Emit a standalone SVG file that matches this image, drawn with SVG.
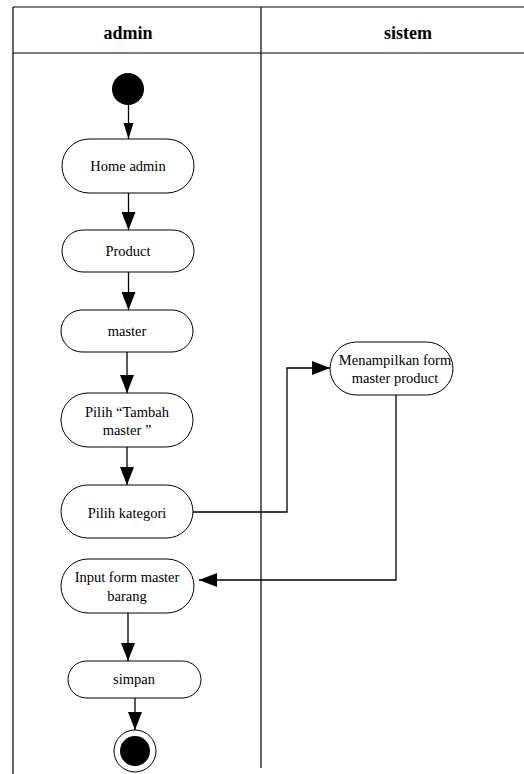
<svg xmlns="http://www.w3.org/2000/svg" width="524" height="774" viewBox="0 0 524 774">
  <style>
    .lane { stroke: #000; stroke-width: 1.2; fill: none; }
    .hdr { font-family: "Liberation Serif", "Times New Roman", serif; font-size: 18px; font-weight: bold; text-anchor: middle; fill: #000; }
    .act { fill: #fff; stroke: #000; stroke-width: 1; }
    .lbl { font-family: "Liberation Serif", "Times New Roman", serif; font-size: 14.5px; text-anchor: middle; fill: #000; }
    .flow { stroke: #000; stroke-width: 1.3; fill: none; }
  </style>
  <defs>
    <marker id="headS" markerUnits="userSpaceOnUse" markerWidth="16" markerHeight="12" refX="16" refY="6" orient="auto">
      <path d="M0,1 L16,6 L0,11 Z" fill="#000"/>
    </marker>
    <marker id="headL" markerUnits="userSpaceOnUse" markerWidth="18" markerHeight="14" refX="18" refY="7" orient="auto">
      <path d="M0,0 L18,7 L0,14 Z" fill="#000"/>
    </marker>
  </defs>

  <rect width="524" height="774" fill="#fff"/>

  <!-- swimlane frame -->
  <g id="lanes">
    <line class="lane" x1="13" y1="7" x2="524" y2="7"/>
    <line class="lane" x1="13" y1="53" x2="524" y2="53"/>
    <line class="lane" x1="13" y1="7" x2="13" y2="774"/>
    <line class="lane" x1="261" y1="7" x2="261" y2="768"/>
    <text class="hdr" x="128" y="39">admin</text>
    <text class="hdr" x="408" y="39">sistem</text>
  </g>

  <!-- connectors -->
  <g id="connectors">
    <line class="flow" x1="128.5" y1="105" x2="128.5" y2="139" marker-end="url(#headS)"/>
    <line class="flow" x1="128.5" y1="193" x2="128.5" y2="230" marker-end="url(#headL)"/>
    <line class="flow" x1="128.5" y1="272" x2="128.5" y2="310" marker-end="url(#headL)"/>
    <line class="flow" x1="127" y1="352" x2="127" y2="393" marker-end="url(#headL)"/>
    <line class="flow" x1="127" y1="447" x2="127" y2="485" marker-end="url(#headL)"/>
    <polyline class="flow" points="193,512 287,512 287,368 330,368" marker-end="url(#headL)"/>
    <polyline class="flow" points="396,395 396,580 199,580" marker-end="url(#headL)"/>
    <line class="flow" x1="128" y1="613" x2="128" y2="661" marker-end="url(#headL)"/>
    <line class="flow" x1="135" y1="698" x2="135" y2="730" marker-end="url(#headL)"/>
  </g>

  <g id="start">
    <circle cx="128" cy="89" r="16" fill="#000"/>
  </g>

  <g id="home-admin">
    <rect class="act" x="62" y="139" width="132" height="54" rx="27"/>
    <text class="lbl" x="128" y="171">Home admin</text>
  </g>

  <g id="product">
    <rect class="act" x="62" y="230" width="132" height="42" rx="21"/>
    <text class="lbl" x="128" y="256">Product</text>
  </g>

  <g id="master">
    <rect class="act" x="61" y="310" width="132" height="42" rx="21"/>
    <text class="lbl" x="127" y="336">master</text>
  </g>

  <g id="pilih-tambah">
    <rect class="act" x="61" y="393" width="132" height="54" rx="27"/>
    <text class="lbl" x="127" y="417">Pilih “Tambah</text>
    <text class="lbl" x="127" y="435">master ”</text>
  </g>

  <g id="pilih-kategori">
    <rect class="act" x="61" y="485" width="132" height="53" rx="26.5"/>
    <text class="lbl" x="127" y="518">Pilih kategori</text>
  </g>

  <g id="menampilkan-form">
    <rect class="act" x="330" y="342" width="123" height="53" rx="26.5"/>
    <text class="lbl" x="395" y="365">Menampilkan form</text>
    <text class="lbl" x="395" y="383">master product</text>
  </g>

  <g id="input-form">
    <rect class="act" x="61" y="559" width="133" height="54" rx="27"/>
    <text class="lbl" x="127" y="582">Input form master</text>
    <text class="lbl" x="127" y="601">barang</text>
  </g>

  <g id="simpan">
    <rect class="act" x="68" y="661" width="133" height="37" rx="18.5"/>
    <text class="lbl" x="134" y="684">simpan</text>
  </g>

  <g id="end">
    <circle cx="135" cy="751" r="21" fill="#fff" stroke="#000" stroke-width="1"/>
    <circle cx="135" cy="751" r="15" fill="#000"/>
  </g>
</svg>
